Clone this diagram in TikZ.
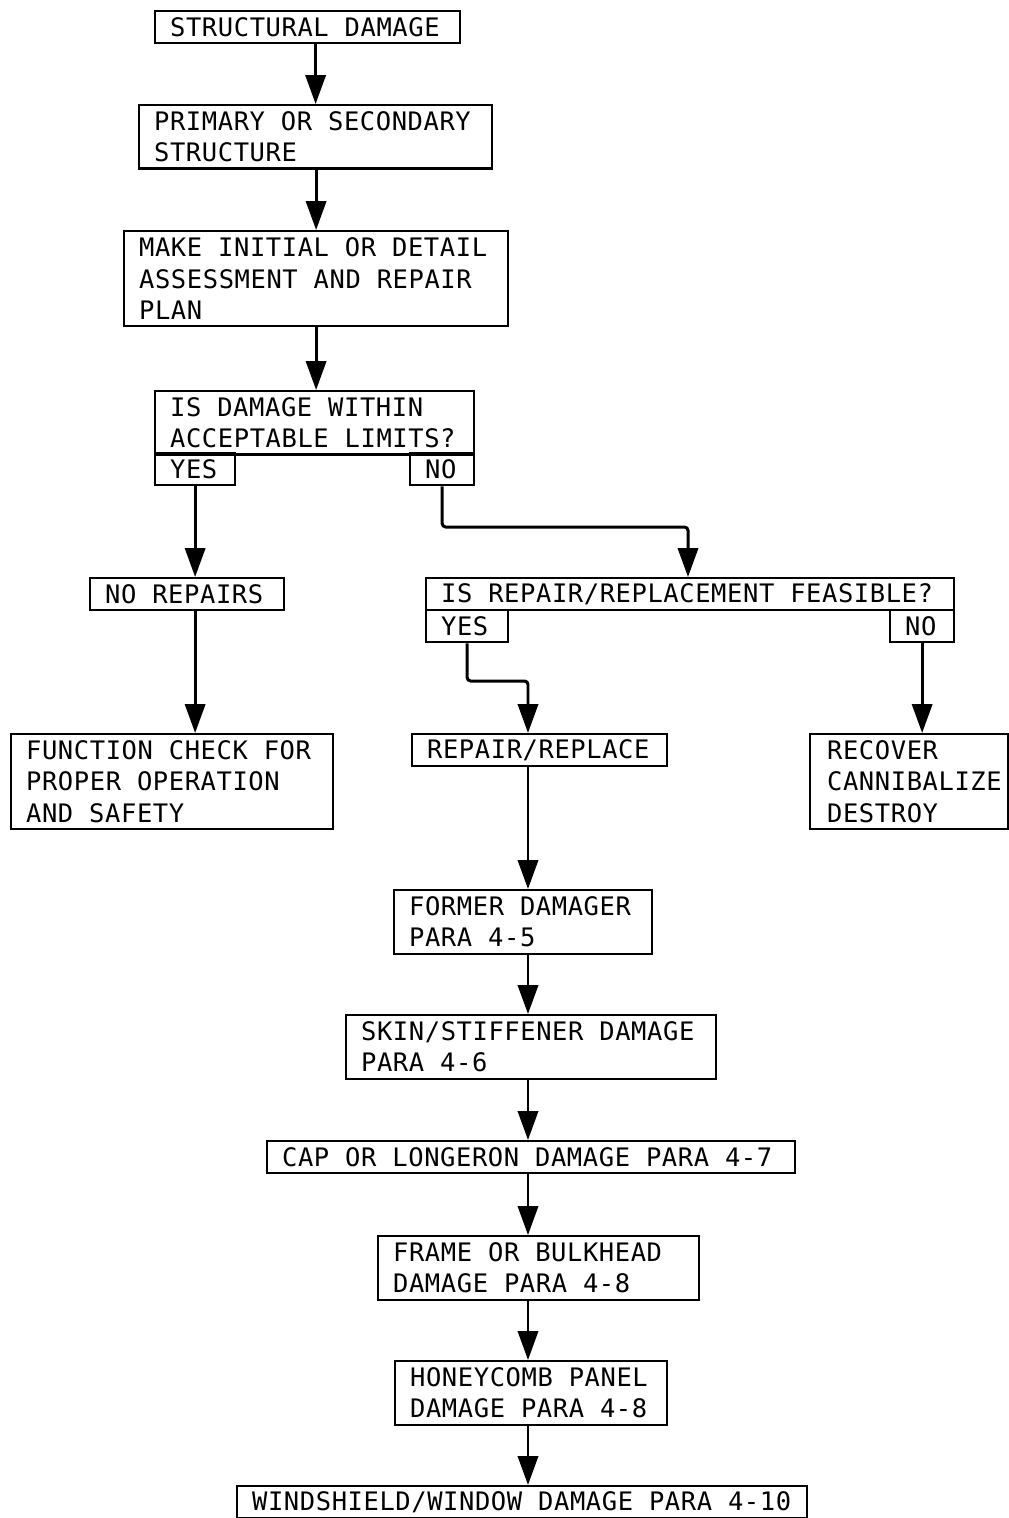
\documentclass[tikz,border=0pt]{standalone}
\usepackage{fontspec}
\setmonofont[LetterSpace=2.3]{DejaVu Sans Mono}
\usetikzlibrary{arrows.meta, positioning}
\newcommand{\boxfont}{\ttfamily\fontsize{14.5}{17.9}\selectfont}
\tikzset{
  flowbox/.style={draw, line width=1.3pt, anchor=north west, inner xsep=0.3cm, inner ysep=0pt, font=\boxfont,
    execute at begin node={\spaceskip=0.625em\relax\xspaceskip=0.625em\relax\rightskip=0pt minus 3cm\relax}},
  onerow/.style={minimum height=0.64cm},
  tworow/.style={minimum height=1.27cm},
  threerow/.style={minimum height=1.9cm},
  flowarrow/.style={line width=1.7pt, rounded corners=2pt, -{Triangle[length=16.5pt, width=11.5pt]}}
}

\begin{document}
\begin{tikzpicture}[x=0.02cm, y=-0.02cm]
  \useasboundingbox (0,0) rectangle (1008,1518);

  % main column
  \node[flowbox, onerow, text width=5.50cm] (sdam) at (154,10) {STRUCTURAL DAMAGE};
  \node[flowbox, tworow, text width=6.46cm] (prim) at (138,104) {PRIMARY OR SECONDARY\\STRUCTURE};
  \node[flowbox, threerow, text width=7.08cm] (assess) at (123,230) {MAKE INITIAL OR DETAIL\\ASSESSMENT AND REPAIR\\PLAN};
  \node[flowbox, tworow, text width=5.78cm] (accept) at (154,390) {IS DAMAGE WITHIN\\ACCEPTABLE LIMITS?};
  \node[flowbox, onerow, text width=1.00cm] (yes1) at (154,452) {YES};
  \node[flowbox, onerow, text width=0.68cm] (no1) at (409,452) {NO};

  % left branch
  \node[flowbox, onerow, text width=3.28cm] (norep) at (89,577) {NO REPAIRS};
  \node[flowbox, threerow, text width=5.84cm] (check) at (10,733) {FUNCTION CHECK FOR\\PROPER OPERATION\\AND SAFETY};

  % right branch
  \node[flowbox, onerow, text width=9.96cm] (feas) at (425,577) {IS REPAIR/REPLACEMENT FEASIBLE?};
  \node[flowbox, onerow, text width=1.04cm] (yes2) at (425,609) {YES};
  \node[flowbox, onerow, text width=0.68cm] (no2) at (889,609) {NO};
  \node[flowbox, onerow, text width=4.50cm] (rr) at (411,733) {REPAIR/REPLACE};
  \node[flowbox, threerow, inner xsep=0.34cm, text width=3.28cm] (recov) at (809,733) {RECOVER\\CANNIBALIZE\\DESTROY};

  % repair paragraphs
  \node[flowbox, tworow, text width=4.56cm] (former) at (393,889) {FORMER DAMAGER\\PARA 4-5};
  \node[flowbox, tworow, text width=6.80cm] (skin) at (345,1014) {SKIN/STIFFENER DAMAGE\\PARA 4-6};
  \node[flowbox, onerow, text width=9.96cm] (cap) at (266,1140) {CAP OR LONGERON DAMAGE PARA 4-7};
  \node[flowbox, tworow, text width=5.82cm] (frame) at (377,1235) {FRAME OR BULKHEAD\\DAMAGE PARA 4-8};
  \node[flowbox, tworow, text width=4.84cm] (honey) at (394,1360) {HONEYCOMB PANEL\\DAMAGE PARA 4-8};
  \node[flowbox, onerow, text width=10.80cm] (wind) at (236,1485) {WINDSHIELD/WINDOW DAMAGE PARA 4-10};

  \coordinate (spine) at (528,0);
  \coordinate (nobend) at (688,527);
  \coordinate (ybend) at (528,681);

  \draw[flowarrow] (prim.north |- sdam.south) -- (prim.north);
  \draw[flowarrow] (assess.north |- prim.south) -- (assess.north);
  \draw[flowarrow] (assess.south) -- (assess.south |- accept.north);
  \draw[flowarrow] (yes1.south) -- (yes1.south |- norep.north);
  \draw[flowarrow] (yes1.south |- norep.south) -- (yes1.south |- check.north);
  \draw[flowarrow] (no1.south) |- (nobend) -- (nobend |- feas.north);
  \draw[flowarrow] (yes2.south) |- (ybend) -- (ybend |- rr.north);
  \draw[flowarrow] (no2.south) -- (no2.south |- recov.north);
  \draw[flowarrow] (spine |- rr.south) -- (spine |- former.north);
  \draw[flowarrow] (spine |- former.south) -- (spine |- skin.north);
  \draw[flowarrow] (spine |- skin.south) -- (spine |- cap.north);
  \draw[flowarrow] (spine |- cap.south) -- (spine |- frame.north);
  \draw[flowarrow] (spine |- frame.south) -- (spine |- honey.north);
  \draw[flowarrow] (spine |- honey.south) -- (spine |- wind.north);
\end{tikzpicture}
\end{document}
